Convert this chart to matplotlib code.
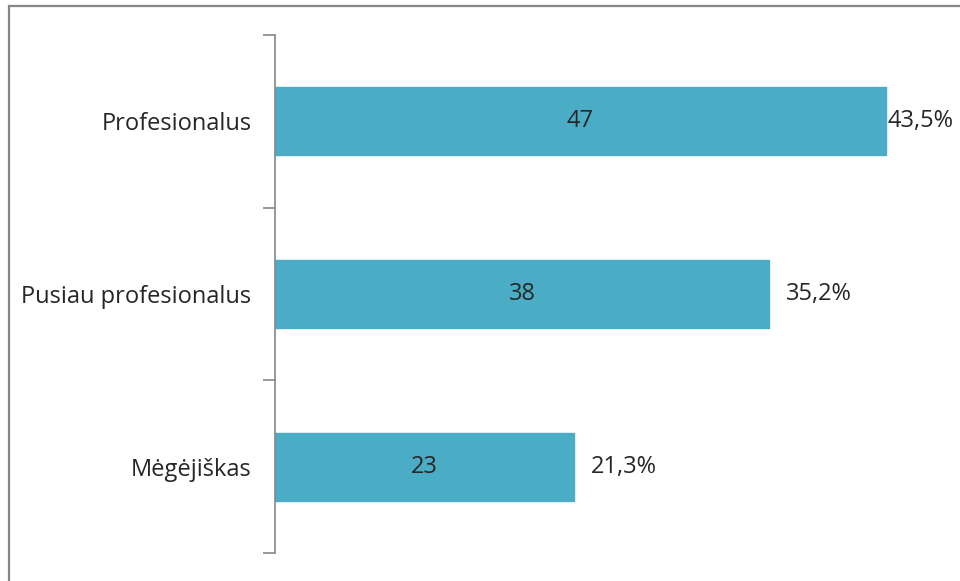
import matplotlib
matplotlib.use("Agg")
import matplotlib.pyplot as plt
from matplotlib.patches import Rectangle

categories = ["Profesionalus", "Pusiau profesionalus", "Mėgėjiškas"]
counts = [47, 38, 23]
percents = ["43,5%", "35,2%", "21,3%"]

plt.rcParams['font.family'] = ['Open Sans', 'DejaVu Sans']
FS = 17
TC = "#262626"

W, H = 960, 581
fig = plt.figure(figsize=(W/100, H/100), dpi=100)

# outer frame
fig.patches.append(Rectangle((9/W, -0.2), 2, 1.2 - 6/H, transform=fig.transFigure,
                             fill=False, edgecolor="#868686", linewidth=1.6))

ax_left, ax_right = 275, 960
ax_top, ax_bot = 35, 553
ax = fig.add_axes([ax_left/W, 1 - ax_bot/H, (ax_right-ax_left)/W, (ax_bot-ax_top)/H])
px_per_unit = 13.0
xmax = (ax_right-ax_left)/px_per_unit
ax.set_xlim(0, xmax)
n = len(categories)
ax.set_ylim(n - 0.5, -0.5)

ypos = list(range(n))
ax.barh(ypos, counts, height=0.395, color="#4BACC6", edgecolor="#4BACC6")

fig.canvas.draw()
renderer = fig.canvas.get_renderer()
for y, c, p in zip(ypos, counts, percents):
    ax.text(c/2, y, str(c), ha="center", va="center", fontsize=FS, color=TC)
    t = ax.text(c + 1.3, y, p, ha="left", va="center", fontsize=FS, color=TC)
    bb = t.get_window_extent(renderer)
    if bb.x1 > W:
        t.set_x(c + 2/px_per_unit)

for s in ["top", "right", "bottom"]:
    ax.spines[s].set_visible(False)
ax.spines["left"].set_color("#868686")
ax.spines["left"].set_linewidth(1.2)
ax.set_xticks([])
ax.set_yticks([-0.5, 0.5, 1.5, 2.5], minor=False)
ax.set_yticklabels([])
ax.tick_params(axis="y", which="major", length=9, color="#868686", width=1.2)
ax.set_yticks(ypos, minor=True)
ax.set_yticklabels(categories, minor=True, fontsize=FS, color=TC)
ax.tick_params(axis="y", which="minor", length=0, pad=17)
ax.patch.set_alpha(0)

fig.savefig("out.png", dpi=100)
